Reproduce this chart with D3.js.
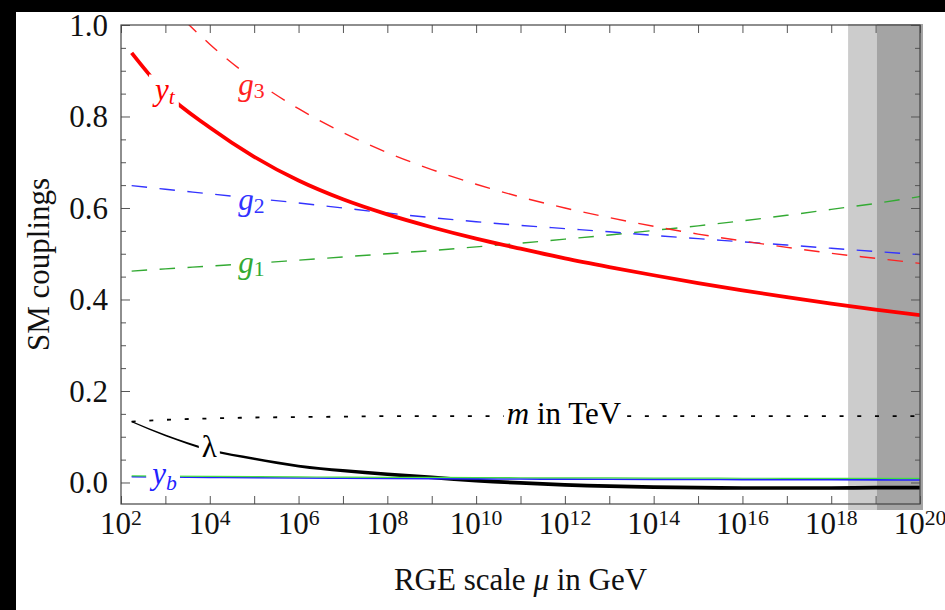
<!DOCTYPE html>
<html><head><meta charset="utf-8">
<script src="https://cdn.jsdelivr.net/npm/d3@7"></script>
<style>
body{margin:0;background:#fff}
text{font-family:"Liberation Serif","DejaVu Serif",serif}
</style></head>
<body><svg id="c" width="945" height="610"></svg>
<script>
// ---- data (log10 of RGE scale in GeV) ----
const muExp = [2.24,3,4,5,6,7,8,9,10,11,12,13,14,15,16,17,18,19,20];
const yt    = [0.939,0.852,0.776,0.712,0.660,0.619,0.586,0.558,0.533,0.511,0.490,0.471,0.453,0.436,0.420,0.405,0.391,0.378,0.366];
const g3    = [1.150,1.055,0.958,0.880,0.817,0.765,0.721,0.684,0.652,0.624,0.600,0.579,0.560,0.543,0.528,0.514,0.501,0.490,0.479];
const g2    = [0.649,0.641,0.631,0.621,0.611,0.600,0.589,0.579,0.570,0.562,0.555,0.548,0.540,0.533,0.526,0.519,0.512,0.505,0.498];
const g1    = [0.462,0.467,0.473,0.479,0.486,0.493,0.500,0.507,0.515,0.523,0.532,0.541,0.551,0.561,0.572,0.584,0.597,0.610,0.625];
const lam   = [0.133,0.103,0.071,0.052,0.036,0.026,0.018,0.011,0.004,-0.001,-0.005,-0.008,-0.010,-0.011,-0.012,-0.012,-0.012,-0.011,-0.011];
const mTeV  = [0.133,0.137,0.140,0.142,0.143,0.144,0.145,0.145,0.145,0.145,0.145,0.145,0.145,0.145,0.145,0.145,0.145,0.145,0.145];
const yb    = [0.0125,0.0120,0.0110,0.0105,0.0098,0.0093,0.0088,0.0084,0.0080,0.0076,0.0073,0.0070,0.0068,0.0066,0.0063,0.0061,0.0059,0.0057,0.0055];
const ytau  = [0.0145,0.0140,0.0133,0.0127,0.0122,0.0117,0.0113,0.0110,0.0107,0.0104,0.0101,0.0099,0.0097,0.0095,0.0093,0.0092,0.0091,0.0090,0.0090];
const bandExp = [18.38, 19.03, 20];           // light band start, dark band start, end
const xTickExp = [2,4,6,8,10,12,14,16,18,20];  // labelled decades
const yMajor = [0,0.2,0.4,0.6,0.8,1.0];

const W=945,H=610,L=121,R=920,T=25,B=504, FS=31;
const svg=d3.select('#c');
svg.append('rect').attr('width',W).attr('height',H).attr('fill','#fff');
svg.append('rect').attr('width',W).attr('height',12).attr('fill','#000');
svg.append('rect').attr('width',16).attr('height',H).attr('fill','#000');

const x=d3.scaleLog().domain([1e2,1e20]).range([L,R]);
const y=d3.scaleLinear().domain([-0.047,1]).range([B,T]);
const X=e=>x(Math.pow(10,e));

// bands
svg.append('rect').attr('x',X(bandExp[0])).attr('y',T-1).attr('width',X(bandExp[1])-X(bandExp[0])).attr('height',B-T+7).attr('fill','#cccccc');
svg.append('rect').attr('x',X(bandExp[1])).attr('y',T-1).attr('width',X(bandExp[2])-X(bandExp[1])+3).attr('height',B-T+7).attr('fill','#a4a4a4');

svg.append('clipPath').attr('id','clip').append('rect').attr('x',L).attr('y',T).attr('width',R-L).attr('height',B-T);
const plot=svg.append('g').attr('clip-path','url(#clip)');

const pts=a=>muExp.map((e,i)=>({e,v:a[i]}));
const line=d3.line().x(d=>X(d.e)).y(d=>y(d.v)).curve(d3.curveMonotoneX);

function draw(a,color,w,dash){
  const p=plot.append('path').attr('d',line(pts(a))).attr('fill','none').attr('stroke',color).attr('stroke-width',w);
  if(dash) p.attr('stroke-dasharray',dash);
  return p;
}
draw(g1,'#33aa33',1.4,'15.5,12.5');
draw(g2,'#3333ff',1.4,'15.5,12.5');
draw(g3,'#ff2222',1.4,'15.5,12.5');
draw(yt,'#ff0000',3.8);
draw(mTeV,'#000',1.8,'4,13.7');

// lambda drawn as a band whose thickness grows to the right
const x0=X(muExp[0]), x1=X(muExp[muExp.length-1]);
const hw=e=>{const t=(X(e)-x0)/(x1-x0);return (1.4+2.3*Math.min(1,t/0.35))/2;};
plot.append('path').attr('d',d3.area().x(d=>X(d.e)).y0(d=>y(d.v)-hw(d.e)).y1(d=>y(d.v)+hw(d.e)).curve(d3.curveMonotoneX)(pts(lam)))
  .attr('fill','#000');
draw(yb,'#2222ff',1.6);
draw(ytau,'#44dd44',1.2);

// labels
const labels=svg.append('g');
function label(e,v,parts,color,size){
  const gLab=labels.append('g');
  const t=gLab.append('text').attr('x',X(e)).attr('y',y(v)).attr('text-anchor','middle')
    .attr('font-size',size).attr('fill',color);
  parts.forEach(p=>{
    const s=t.append('tspan').text(p.t);
    if(p.i) s.attr('font-style','italic');
    if(p.sub){ s.attr('font-size',size*0.7).attr('dy',p.dy||4); }
  });
  const bb=t.node().getBBox();
  gLab.insert('rect','text').attr('x',bb.x-3).attr('y',bb.y+2).attr('width',bb.width+6).attr('height',bb.height-4).attr('fill','#fff');
}
label(2.99,0.835,[{t:'y',i:1},{t:'t',i:1,sub:1,dy:4}],'#ff0000',FS);
label(4.94,0.847,[{t:'g',i:1},{t:'3',sub:1,dy:3}],'#ff2222',FS);
label(4.94,0.596,[{t:'g',i:1},{t:'2',sub:1,dy:3}],'#3333ff',FS);
label(4.94,0.458,[{t:'g',i:1},{t:'1',sub:1,dy:3}],'#33aa33',FS);
label(3.99,0.056,[{t:'λ',i:0}],'#000',FS);
label(2.98,-0.003,[{t:'y',i:1},{t:'b',i:1,sub:1,dy:6}],'#2222ff',FS);
label(11.98,0.128,[{t:'m',i:1},{t:' in TeV'}],'#000',FS);

// axes
const decades=d3.range(2,21).map(e=>Math.pow(10,e));
const yMinor=d3.range(0,21).map(i=>i*0.05).filter(v=>!yMajor.some(m=>Math.abs(m-v)<1e-6));
function ax(gen,tr){
  const g=svg.append('g').attr('transform',tr).call(gen);
  g.select('.domain').remove();
  g.selectAll('line').attr('stroke','#555');
  g.selectAll('text').remove();
}
ax(d3.axisBottom(x).tickValues(decades).tickSize(-8),`translate(0,${B})`);
ax(d3.axisTop(x).tickValues(decades).tickSize(-8),`translate(0,${T})`);
ax(d3.axisLeft(y).tickValues(yMajor).tickSize(-9),`translate(${L},0)`);
ax(d3.axisLeft(y).tickValues(yMinor).tickSize(-5),`translate(${L},0)`);
ax(d3.axisRight(y).tickValues(yMajor).tickSize(-9),`translate(${R},0)`);
ax(d3.axisRight(y).tickValues(yMinor).tickSize(-5),`translate(${R},0)`);
svg.append('rect').attr('x',L).attr('y',T).attr('width',R-L).attr('height',B-T).attr('fill','none').attr('stroke','#444').attr('stroke-width',1.2);

// tick labels
const fmt=d3.format('.1f');
yMajor.forEach(v=>{
  svg.append('text').attr('x',L-13).attr('y',y(v)).attr('dy','0.34em').attr('text-anchor','end').attr('font-size',FS).attr('fill','#111').text(fmt(v));
});
xTickExp.forEach(e=>{
  const t=svg.append('text').attr('x',X(e)).attr('y',534).attr('text-anchor','middle').attr('font-size',FS).attr('fill','#111');
  t.append('tspan').text('10');
  t.append('tspan').attr('dy','-0.42em').attr('font-size',FS*0.7).text(e);
});
// axis titles
const xt=svg.append('text').attr('x',(L+R)/2).attr('y',590).attr('text-anchor','middle').attr('font-size',FS).attr('fill','#111');
xt.append('tspan').text('RGE scale ');
xt.append('tspan').attr('font-style','italic').text('μ');
xt.append('tspan').text(' in GeV');
svg.append('text').attr('transform',`translate(38,${(T+B)/2}) rotate(-90)`).attr('dy','0.35em').attr('text-anchor','middle').attr('font-size',FS).attr('fill','#111').text('SM couplings');
</script></body></html>
